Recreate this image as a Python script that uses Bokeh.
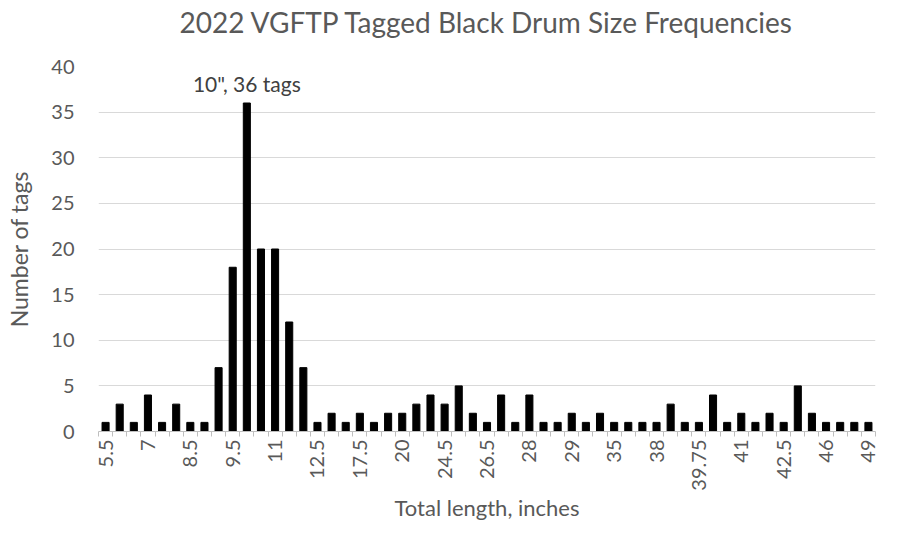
import math
from bokeh.plotting import figure
from bokeh.models import FixedTicker, Label, Range1d, ColumnDataSource, Title
from bokeh.embed import file_html
from bokeh.resources import INLINE

sizes = ["5.5", "6", "6.5", "7", "7.5", "8", "8.5", "9", "9.25", "9.5",
         "10", "10.5", "11", "11.5", "12", "12.5", "14", "16", "17.5", "18",
         "19", "20", "21", "23", "24.5", "25", "26", "26.5", "27", "27.5",
         "28", "28.25", "28.5", "29", "30", "33", "35", "36", "37", "38",
         "39", "39.5", "39.75", "40", "40.5", "41", "41.5", "42", "42.5", "43",
         "45", "46", "47", "48", "49"]
tags = [1, 3, 1, 4, 1, 3, 1, 1, 7, 18,
        36, 20, 20, 12, 7, 1, 2, 1, 2, 1,
        2, 2, 3, 4, 3, 5, 2, 1, 4, 1,
        4, 1, 1, 2, 1, 2, 1, 1, 1, 1,
        3, 1, 1, 4, 1, 2, 1, 2, 1, 5,
        2, 1, 1, 1, 1]
shown_labels = ["5.5", "7", "8.5", "9.5", "11", "12.5", "17.5", "20", "24.5", "26.5",
                "28", "29", "35", "38", "39.75", "41", "42.5", "46", "49"]
annotation = '10", 36 tags'
title = "2022 VGFTP Tagged Black Drum Size Frequencies"

pos = list(range(len(sizes)))
src = ColumnDataSource(dict(x=pos, top=tags, size=sizes))

FONT = "Lato"
GRAY = "#595959"
YMAX = 40

p = figure(width=887, height=523, output_backend="svg", toolbar_location=None,
           x_range=Range1d(-0.5, len(sizes) - 0.5), y_range=Range1d(0, YMAX),
           min_border_left=98, min_border_right=12, min_border_top=66, min_border_bottom=80)
p.outline_line_color = None

p.vbar(x="x", top="top", width=0.5, color="black", source=src)

major = [i for i, s in enumerate(sizes) if s in shown_labels]
p.xaxis.ticker = FixedTicker(ticks=major, minor_ticks=[i - 0.5 for i in range(len(sizes) + 1)])
p.xaxis.major_label_overrides = {i: sizes[i] for i in major}
p.xaxis.major_label_orientation = math.pi / 2
p.xaxis.major_tick_out = 0
p.xaxis.major_tick_in = 0
p.xaxis.minor_tick_out = 5
p.xaxis.minor_tick_in = 0
p.xaxis.minor_tick_line_color = "#bfbfbf"
p.xaxis.axis_line_color = "#bfbfbf"
p.xaxis.major_label_text_font = FONT
p.xaxis.major_label_text_font_size = "20px"
p.xaxis.major_label_text_color = GRAY
p.xaxis.major_label_standoff = 3
p.xaxis.axis_label = "Total length, inches"
p.xaxis.axis_label_text_font = FONT
p.xaxis.axis_label_text_font_size = "22px"
p.xaxis.axis_label_text_font_style = "normal"
p.xaxis.axis_label_text_color = GRAY
p.xaxis.axis_label_standoff = 0
p.xgrid.grid_line_color = None

p.yaxis.ticker = FixedTicker(ticks=list(range(0, YMAX + 1, 5)))
p.yaxis.axis_line_color = None
p.yaxis.major_tick_line_color = None
p.yaxis.minor_tick_line_color = None
p.yaxis.major_label_text_font = FONT
p.yaxis.major_label_text_font_size = "20px"
p.yaxis.major_label_text_color = GRAY
p.yaxis.major_label_standoff = 18
p.yaxis.axis_label = "Number of tags"
p.yaxis.axis_label_text_font = FONT
p.yaxis.axis_label_text_font_size = "23px"
p.yaxis.axis_label_text_font_style = "normal"
p.yaxis.axis_label_text_color = GRAY
p.yaxis.axis_label_standoff = 15
p.ygrid.grid_line_color = "#d9d9d9"

p.title.text = title
p.title.text_font = FONT
p.title.text_font_size = "28px"
p.title.text_font_style = "normal"
p.title.text_color = GRAY
p.title.align = "center"
p.title.standoff = 5

# blank spacer between the title and the plotting frame
p.add_layout(Title(text=" ", text_font=FONT, text_font_size="16px", standoff=4), "above")

peak = tags.index(max(tags))
p.add_layout(Label(x=pos[peak], y=tags[peak], text=annotation, text_align="center",
                   text_baseline="bottom", y_offset=7, text_font=FONT,
                   text_font_size="21px", text_color="#404040"))

open("out.html", "w").write(file_html(p, INLINE))
